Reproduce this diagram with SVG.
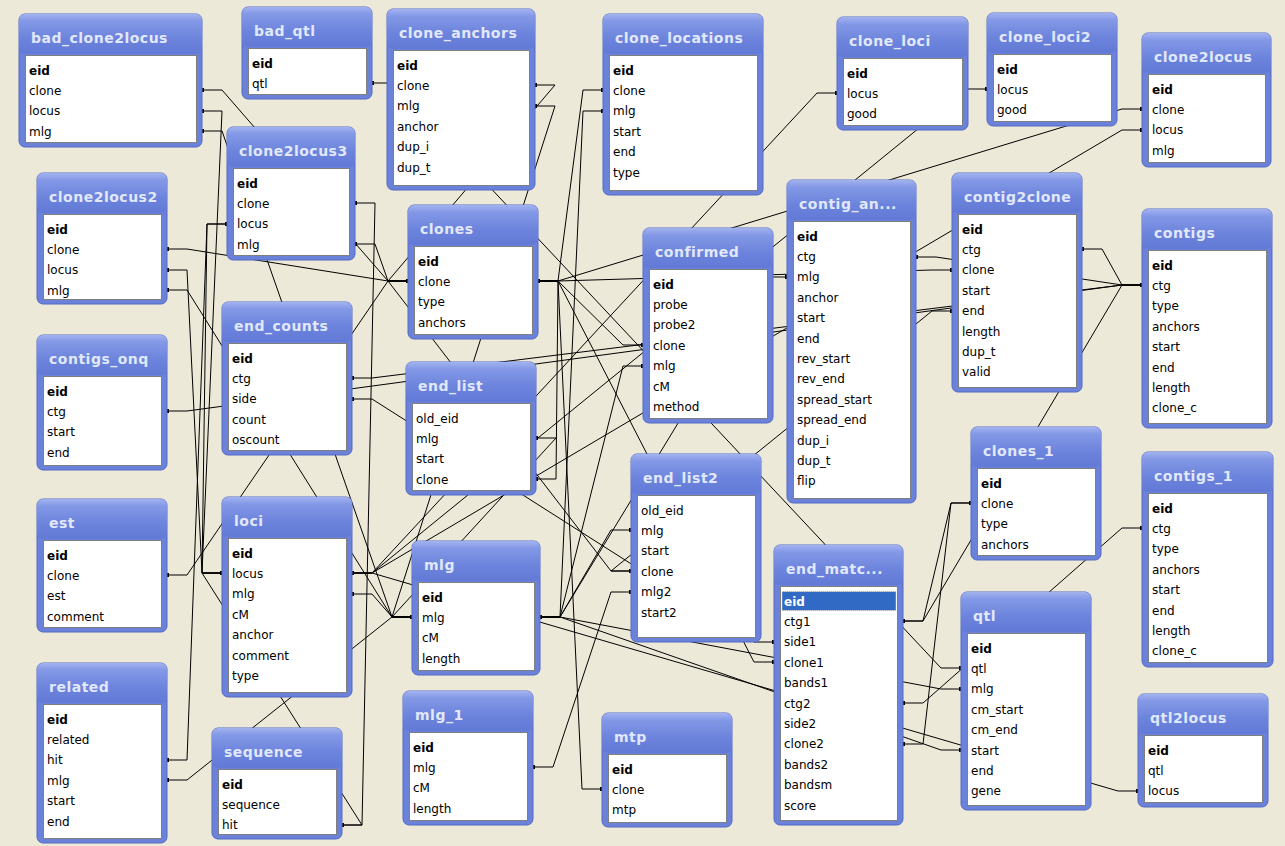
<svg xmlns="http://www.w3.org/2000/svg" width="1285" height="846" viewBox="0 0 1285 846">
<defs>
<linearGradient id="hg" x1="0" y1="0" x2="0" y2="1">
<stop offset="0" stop-color="#a3b3f0"/><stop offset="0.18" stop-color="#8398e6"/><stop offset="0.6" stop-color="#6c84dc"/><stop offset="1" stop-color="#627ad6"/>
</linearGradient>
<marker id="dot" markerWidth="4" markerHeight="4" refX="2" refY="2" markerUnits="userSpaceOnUse"><rect width="4" height="4" fill="#000"/></marker>
<style>
.fr{fill:#6a82da;stroke:#5569c4;stroke-width:1}
.hd{fill:url(#hg)}
.tt{font-family:"DejaVu Sans",sans-serif;font-weight:bold;font-size:14px;letter-spacing:0.5px;fill:#e1e8fc}
.wl{fill:#fff;stroke:#7f7f7f;stroke-width:1}
.fd{font-family:"DejaVu Sans",sans-serif;font-size:12px;fill:#000}
.pk{font-weight:bold}
.cn path{fill:none;stroke:#000;stroke-width:1;marker-start:url(#dot);marker-end:url(#dot)}
</style>
</defs>
<rect width="1285" height="846" fill="#ece9d8"/>
<g id="connectors" class="cn">
<path d="M202 90 H222 L388 281 H408"/>
<path d="M202 111 H222 L202 573 H222"/>
<path d="M202 131 H222 L392 617 H412"/>
<path d="M372 83 H392 L941 668 H961"/>
<path d="M167 249 H187 L388 281 H408"/>
<path d="M167 270 H187 L202 573 H222"/>
<path d="M167 290 H187 L392 617 H412"/>
<path d="M355 203 H375 L362 825 H342"/>
<path d="M355 244 H375 L388 281 H408"/>
<path d="M227 224 H207 L202 573 H222"/>
<path d="M167 411 H187 L1122 285 H1142"/>
<path d="M352 378 H372 L1122 285 H1142"/>
<path d="M352 399 H372 L754 642 H774"/>
<path d="M167 575 H187 L388 281 H408"/>
<path d="M167 760 H187 L207 224 H227"/>
<path d="M167 780 H187 L392 617 H412"/>
<path d="M342 825 H362 L202 573 H222"/>
<path d="M352 594 H372 L392 617 H412"/>
<path d="M352 573 H372 L817 93 H837"/>
<path d="M352 573 H372 L967 89 H987"/>
<path d="M352 573 H372 L1122 130 H1142"/>
<path d="M352 573 H372 L1118 791 H1138"/>
<path d="M538 281 H558 L1122 109 H1142"/>
<path d="M535 85 H555 L388 281 H408"/>
<path d="M535 106 H555 L392 617 H412"/>
<path d="M538 281 H558 L583 90 H603"/>
<path d="M540 617 H560 L583 111 H603"/>
<path d="M538 281 H558 L623 345 H643"/>
<path d="M540 617 H560 L623 366 H643"/>
<path d="M538 281 H558 L932 270 H952"/>
<path d="M540 617 H560 L767 277 H787"/>
<path d="M916 257 H936 L1122 285 H1142"/>
<path d="M1082 249 H1102 L1122 285 H1142"/>
<path d="M536 479 H556 L558 281 H538"/>
<path d="M536 438 H556 L392 617 H412"/>
<path d="M408 281 H388 L611 571 H631"/>
<path d="M533 767 H553 L611 592 H631"/>
<path d="M538 281 H558 L582 789 H602"/>
<path d="M540 617 H560 L941 689 H961"/>
<path d="M540 617 H560 L941 750 H961"/>
<path d="M538 281 H558 L754 662 H774"/>
<path d="M903 621 H923 L951 503 H971"/>
<path d="M903 744 H923 L951 503 H971"/>
<path d="M903 621 H923 L1122 285 H1142"/>
<path d="M903 703 H923 L1122 528 H1142"/>
<path d="M631 571 H611 L932 311 H952"/>
<path d="M631 530 H611 L560 617 H540"/>
</g>

<g id="bad_clone2locus" transform="translate(19,14)">
<rect class="fr" width="183" height="133" rx="6"/><rect class="hd" width="183" height="40" rx="6"/>
<text class="tt" x="12" y="29">bad_clone2locus</text>
<rect class="wl" x="6.5" y="41.5" width="171" height="87"/>
<text class="fd"><tspan x="10" y="60.5" class="pk">eid</tspan><tspan x="10" dy="20.4">clone</tspan><tspan x="10" dy="20.4">locus</tspan><tspan x="10" dy="20.4">mlg</tspan></text>
</g>

<g id="bad_qtl" transform="translate(242,7)">
<rect class="fr" width="130" height="92" rx="6"/><rect class="hd" width="130" height="40" rx="6"/>
<text class="tt" x="12" y="29">bad_qtl</text>
<rect class="wl" x="6.5" y="41.5" width="118" height="46"/>
<text class="fd"><tspan x="10" y="60.5" class="pk">eid</tspan><tspan x="10" dy="20.4">qtl</tspan></text>
</g>

<g id="clone_anchors" transform="translate(387,9)">
<rect class="fr" width="148" height="181" rx="6"/><rect class="hd" width="148" height="40" rx="6"/>
<text class="tt" x="12" y="29">clone_anchors</text>
<rect class="wl" x="6.5" y="41.5" width="136" height="135"/>
<text class="fd"><tspan x="10" y="60.5" class="pk">eid</tspan><tspan x="10" dy="20.4">clone</tspan><tspan x="10" dy="20.4">mlg</tspan><tspan x="10" dy="20.4">anchor</tspan><tspan x="10" dy="20.4">dup_i</tspan><tspan x="10" dy="20.4">dup_t</tspan></text>
</g>

<g id="clone_locations" transform="translate(603,14)">
<rect class="fr" width="160" height="181" rx="6"/><rect class="hd" width="160" height="40" rx="6"/>
<text class="tt" x="12" y="29">clone_locations</text>
<rect class="wl" x="6.5" y="41.5" width="148" height="135"/>
<text class="fd"><tspan x="10" y="60.5" class="pk">eid</tspan><tspan x="10" dy="20.4">clone</tspan><tspan x="10" dy="20.4">mlg</tspan><tspan x="10" dy="20.4">start</tspan><tspan x="10" dy="20.4">end</tspan><tspan x="10" dy="20.4">type</tspan></text>
</g>

<g id="clone_loci" transform="translate(837,17)">
<rect class="fr" width="131" height="113" rx="6"/><rect class="hd" width="131" height="40" rx="6"/>
<text class="tt" x="12" y="29">clone_loci</text>
<rect class="wl" x="6.5" y="41.5" width="119" height="67"/>
<text class="fd"><tspan x="10" y="60.5" class="pk">eid</tspan><tspan x="10" dy="20.4">locus</tspan><tspan x="10" dy="20.4">good</tspan></text>
</g>

<g id="clone_loci2" transform="translate(987,13)">
<rect class="fr" width="130" height="113" rx="6"/><rect class="hd" width="130" height="40" rx="6"/>
<text class="tt" x="12" y="29">clone_loci2</text>
<rect class="wl" x="6.5" y="41.5" width="118" height="67"/>
<text class="fd"><tspan x="10" y="60.5" class="pk">eid</tspan><tspan x="10" dy="20.4">locus</tspan><tspan x="10" dy="20.4">good</tspan></text>
</g>

<g id="clone2locus" transform="translate(1142,33)">
<rect class="fr" width="129" height="134" rx="6"/><rect class="hd" width="129" height="40" rx="6"/>
<text class="tt" x="12" y="29">clone2locus</text>
<rect class="wl" x="6.5" y="41.5" width="117" height="88"/>
<text class="fd"><tspan x="10" y="60.5" class="pk">eid</tspan><tspan x="10" dy="20.4">clone</tspan><tspan x="10" dy="20.4">locus</tspan><tspan x="10" dy="20.4">mlg</tspan></text>
</g>

<g id="clone2locus3" transform="translate(227,127)">
<rect class="fr" width="128" height="133" rx="6"/><rect class="hd" width="128" height="40" rx="6"/>
<text class="tt" x="12" y="29">clone2locus3</text>
<rect class="wl" x="6.5" y="41.5" width="116" height="87"/>
<text class="fd"><tspan x="10" y="60.5" class="pk">eid</tspan><tspan x="10" dy="20.4">clone</tspan><tspan x="10" dy="20.4">locus</tspan><tspan x="10" dy="20.4">mlg</tspan></text>
</g>

<g id="clone2locus2" transform="translate(37,173)">
<rect class="fr" width="130" height="131" rx="6"/><rect class="hd" width="130" height="40" rx="6"/>
<text class="tt" x="12" y="29">clone2locus2</text>
<rect class="wl" x="6.5" y="41.5" width="118" height="85"/>
<text class="fd"><tspan x="10" y="60.5" class="pk">eid</tspan><tspan x="10" dy="20.4">clone</tspan><tspan x="10" dy="20.4">locus</tspan><tspan x="10" dy="20.4">mlg</tspan></text>
</g>

<g id="clones" transform="translate(408,205)">
<rect class="fr" width="130" height="134" rx="6"/><rect class="hd" width="130" height="40" rx="6"/>
<text class="tt" x="12" y="29">clones</text>
<rect class="wl" x="6.5" y="41.5" width="118" height="88"/>
<text class="fd"><tspan x="10" y="60.5" class="pk">eid</tspan><tspan x="10" dy="20.4">clone</tspan><tspan x="10" dy="20.4">type</tspan><tspan x="10" dy="20.4">anchors</tspan></text>
</g>

<g id="confirmed" transform="translate(643,228)">
<rect class="fr" width="130" height="195" rx="6"/><rect class="hd" width="130" height="40" rx="6"/>
<text class="tt" x="12" y="29">confirmed</text>
<rect class="wl" x="6.5" y="41.5" width="118" height="149"/>
<text class="fd"><tspan x="10" y="60.5" class="pk">eid</tspan><tspan x="10" dy="20.4">probe</tspan><tspan x="10" dy="20.4">probe2</tspan><tspan x="10" dy="20.4">clone</tspan><tspan x="10" dy="20.4">mlg</tspan><tspan x="10" dy="20.4">cM</tspan><tspan x="10" dy="20.4">method</tspan></text>
</g>

<g id="contig_an" transform="translate(787,180)">
<rect class="fr" width="129" height="323" rx="6"/><rect class="hd" width="129" height="40" rx="6"/>
<text class="tt" x="12" y="29">contig_an...</text>
<rect class="wl" x="6.5" y="41.5" width="117" height="277"/>
<text class="fd"><tspan x="10" y="60.5" class="pk">eid</tspan><tspan x="10" dy="20.4">ctg</tspan><tspan x="10" dy="20.4">mlg</tspan><tspan x="10" dy="20.4">anchor</tspan><tspan x="10" dy="20.4">start</tspan><tspan x="10" dy="20.4">end</tspan><tspan x="10" dy="20.4">rev_start</tspan><tspan x="10" dy="20.4">rev_end</tspan><tspan x="10" dy="20.4">spread_start</tspan><tspan x="10" dy="20.4">spread_end</tspan><tspan x="10" dy="20.4">dup_i</tspan><tspan x="10" dy="20.4">dup_t</tspan><tspan x="10" dy="20.4">flip</tspan></text>
</g>

<g id="contig2clone" transform="translate(952,173)">
<rect class="fr" width="130" height="219" rx="6"/><rect class="hd" width="130" height="40" rx="6"/>
<text class="tt" x="12" y="29">contig2clone</text>
<rect class="wl" x="6.5" y="41.5" width="118" height="173"/>
<text class="fd"><tspan x="10" y="60.5" class="pk">eid</tspan><tspan x="10" dy="20.4">ctg</tspan><tspan x="10" dy="20.4">clone</tspan><tspan x="10" dy="20.4">start</tspan><tspan x="10" dy="20.4">end</tspan><tspan x="10" dy="20.4">length</tspan><tspan x="10" dy="20.4">dup_t</tspan><tspan x="10" dy="20.4">valid</tspan></text>
</g>

<g id="contigs" transform="translate(1142,209)">
<rect class="fr" width="130" height="219" rx="6"/><rect class="hd" width="130" height="40" rx="6"/>
<text class="tt" x="12" y="29">contigs</text>
<rect class="wl" x="6.5" y="41.5" width="118" height="173"/>
<text class="fd"><tspan x="10" y="60.5" class="pk">eid</tspan><tspan x="10" dy="20.4">ctg</tspan><tspan x="10" dy="20.4">type</tspan><tspan x="10" dy="20.4">anchors</tspan><tspan x="10" dy="20.4">start</tspan><tspan x="10" dy="20.4">end</tspan><tspan x="10" dy="20.4">length</tspan><tspan x="10" dy="20.4">clone_c</tspan></text>
</g>

<g id="contigs_onq" transform="translate(37,335)">
<rect class="fr" width="130" height="135" rx="6"/><rect class="hd" width="130" height="40" rx="6"/>
<text class="tt" x="12" y="29">contigs_onq</text>
<rect class="wl" x="6.5" y="41.5" width="118" height="89"/>
<text class="fd"><tspan x="10" y="60.5" class="pk">eid</tspan><tspan x="10" dy="20.4">ctg</tspan><tspan x="10" dy="20.4">start</tspan><tspan x="10" dy="20.4">end</tspan></text>
</g>

<g id="end_counts" transform="translate(222,302)">
<rect class="fr" width="130" height="153" rx="6"/><rect class="hd" width="130" height="40" rx="6"/>
<text class="tt" x="12" y="29">end_counts</text>
<rect class="wl" x="6.5" y="41.5" width="118" height="107"/>
<text class="fd"><tspan x="10" y="60.5" class="pk">eid</tspan><tspan x="10" dy="20.4">ctg</tspan><tspan x="10" dy="20.4">side</tspan><tspan x="10" dy="20.4">count</tspan><tspan x="10" dy="20.4">oscount</tspan></text>
</g>

<g id="end_list" transform="translate(406,362)">
<rect class="fr" width="130" height="133" rx="6"/><rect class="hd" width="130" height="40" rx="6"/>
<text class="tt" x="12" y="29">end_list</text>
<rect class="wl" x="6.5" y="41.5" width="118" height="87"/>
<text class="fd"><tspan x="10" y="60.5">old_eid</tspan><tspan x="10" dy="20.4">mlg</tspan><tspan x="10" dy="20.4">start</tspan><tspan x="10" dy="20.4">clone</tspan></text>
</g>

<g id="end_list2" transform="translate(631,454)">
<rect class="fr" width="130" height="188" rx="6"/><rect class="hd" width="130" height="40" rx="6"/>
<text class="tt" x="12" y="29">end_list2</text>
<rect class="wl" x="6.5" y="41.5" width="118" height="142"/>
<text class="fd"><tspan x="10" y="60.5">old_eid</tspan><tspan x="10" dy="20.4">mlg</tspan><tspan x="10" dy="20.4">start</tspan><tspan x="10" dy="20.4">clone</tspan><tspan x="10" dy="20.4">mlg2</tspan><tspan x="10" dy="20.4">start2</tspan></text>
</g>

<g id="est" transform="translate(37,499)">
<rect class="fr" width="130" height="133" rx="6"/><rect class="hd" width="130" height="40" rx="6"/>
<text class="tt" x="12" y="29">est</text>
<rect class="wl" x="6.5" y="41.5" width="118" height="87"/>
<text class="fd"><tspan x="10" y="60.5" class="pk">eid</tspan><tspan x="10" dy="20.4">clone</tspan><tspan x="10" dy="20.4">est</tspan><tspan x="10" dy="20.4">comment</tspan></text>
</g>

<g id="loci" transform="translate(222,497)">
<rect class="fr" width="130" height="200" rx="6"/><rect class="hd" width="130" height="40" rx="6"/>
<text class="tt" x="12" y="29">loci</text>
<rect class="wl" x="6.5" y="41.5" width="118" height="154"/>
<text class="fd"><tspan x="10" y="60.5" class="pk">eid</tspan><tspan x="10" dy="20.4">locus</tspan><tspan x="10" dy="20.4">mlg</tspan><tspan x="10" dy="20.4">cM</tspan><tspan x="10" dy="20.4">anchor</tspan><tspan x="10" dy="20.4">comment</tspan><tspan x="10" dy="20.4">type</tspan></text>
</g>

<g id="related" transform="translate(37,663)">
<rect class="fr" width="130" height="180" rx="6"/><rect class="hd" width="130" height="40" rx="6"/>
<text class="tt" x="12" y="29">related</text>
<rect class="wl" x="6.5" y="41.5" width="118" height="134"/>
<text class="fd"><tspan x="10" y="60.5" class="pk">eid</tspan><tspan x="10" dy="20.4">related</tspan><tspan x="10" dy="20.4">hit</tspan><tspan x="10" dy="20.4">mlg</tspan><tspan x="10" dy="20.4">start</tspan><tspan x="10" dy="20.4">end</tspan></text>
</g>

<g id="sequence" transform="translate(212,728)">
<rect class="fr" width="130" height="111" rx="6"/><rect class="hd" width="130" height="40" rx="6"/>
<text class="tt" x="12" y="29">sequence</text>
<rect class="wl" x="6.5" y="41.5" width="118" height="65"/>
<text class="fd"><tspan x="10" y="60.5" class="pk">eid</tspan><tspan x="10" dy="20.4">sequence</tspan><tspan x="10" dy="20.4">hit</tspan></text>
</g>

<g id="mlg" transform="translate(412,541)">
<rect class="fr" width="128" height="134" rx="6"/><rect class="hd" width="128" height="40" rx="6"/>
<text class="tt" x="12" y="29">mlg</text>
<rect class="wl" x="6.5" y="41.5" width="116" height="88"/>
<text class="fd"><tspan x="10" y="60.5" class="pk">eid</tspan><tspan x="10" dy="20.4">mlg</tspan><tspan x="10" dy="20.4">cM</tspan><tspan x="10" dy="20.4">length</tspan></text>
</g>

<g id="mlg_1" transform="translate(403,691)">
<rect class="fr" width="130" height="134" rx="6"/><rect class="hd" width="130" height="40" rx="6"/>
<text class="tt" x="12" y="29">mlg_1</text>
<rect class="wl" x="6.5" y="41.5" width="118" height="88"/>
<text class="fd"><tspan x="10" y="60.5" class="pk">eid</tspan><tspan x="10" dy="20.4">mlg</tspan><tspan x="10" dy="20.4">cM</tspan><tspan x="10" dy="20.4">length</tspan></text>
</g>

<g id="mtp" transform="translate(602,713)">
<rect class="fr" width="130" height="114" rx="6"/><rect class="hd" width="130" height="40" rx="6"/>
<text class="tt" x="12" y="29">mtp</text>
<rect class="wl" x="6.5" y="41.5" width="118" height="68"/>
<text class="fd"><tspan x="10" y="60.5" class="pk">eid</tspan><tspan x="10" dy="20.4">clone</tspan><tspan x="10" dy="20.4">mtp</tspan></text>
</g>

<g id="end_matc" transform="translate(774,545)">
<rect class="fr" width="129" height="280" rx="6"/><rect class="hd" width="129" height="40" rx="6"/>
<text class="tt" x="12" y="29">end_matc...</text>
<rect class="wl" x="6.5" y="41.5" width="117" height="234"/>
<rect x="8" y="46.5" width="114" height="19" fill="#316ac5" stroke="#d8d8d8" stroke-dasharray="1 1"/>
<text class="fd"><tspan x="10" y="60.5" class="pk" fill="#fff">eid</tspan><tspan x="10" dy="20.4">ctg1</tspan><tspan x="10" dy="20.4">side1</tspan><tspan x="10" dy="20.4">clone1</tspan><tspan x="10" dy="20.4">bands1</tspan><tspan x="10" dy="20.4">ctg2</tspan><tspan x="10" dy="20.4">side2</tspan><tspan x="10" dy="20.4">clone2</tspan><tspan x="10" dy="20.4">bands2</tspan><tspan x="10" dy="20.4">bandsm</tspan><tspan x="10" dy="20.4">score</tspan></text>
</g>

<g id="clones_1" transform="translate(971,427)">
<rect class="fr" width="130" height="133" rx="6"/><rect class="hd" width="130" height="40" rx="6"/>
<text class="tt" x="12" y="29">clones_1</text>
<rect class="wl" x="6.5" y="41.5" width="118" height="87"/>
<text class="fd"><tspan x="10" y="60.5" class="pk">eid</tspan><tspan x="10" dy="20.4">clone</tspan><tspan x="10" dy="20.4">type</tspan><tspan x="10" dy="20.4">anchors</tspan></text>
</g>

<g id="contigs_1" transform="translate(1142,452)">
<rect class="fr" width="131" height="215" rx="6"/><rect class="hd" width="131" height="40" rx="6"/>
<text class="tt" x="12" y="29">contigs_1</text>
<rect class="wl" x="6.5" y="41.5" width="119" height="169"/>
<text class="fd"><tspan x="10" y="60.5" class="pk">eid</tspan><tspan x="10" dy="20.4">ctg</tspan><tspan x="10" dy="20.4">type</tspan><tspan x="10" dy="20.4">anchors</tspan><tspan x="10" dy="20.4">start</tspan><tspan x="10" dy="20.4">end</tspan><tspan x="10" dy="20.4">length</tspan><tspan x="10" dy="20.4">clone_c</tspan></text>
</g>

<g id="qtl" transform="translate(961,592)">
<rect class="fr" width="130" height="218" rx="6"/><rect class="hd" width="130" height="40" rx="6"/>
<text class="tt" x="12" y="29">qtl</text>
<rect class="wl" x="6.5" y="41.5" width="118" height="172"/>
<text class="fd"><tspan x="10" y="60.5" class="pk">eid</tspan><tspan x="10" dy="20.4">qtl</tspan><tspan x="10" dy="20.4">mlg</tspan><tspan x="10" dy="20.4">cm_start</tspan><tspan x="10" dy="20.4">cm_end</tspan><tspan x="10" dy="20.4">start</tspan><tspan x="10" dy="20.4">end</tspan><tspan x="10" dy="20.4">gene</tspan></text>
</g>

<g id="qtl2locus" transform="translate(1138,694)">
<rect class="fr" width="130" height="113" rx="6"/><rect class="hd" width="130" height="40" rx="6"/>
<text class="tt" x="12" y="29">qtl2locus</text>
<rect class="wl" x="6.5" y="41.5" width="118" height="67"/>
<text class="fd"><tspan x="10" y="60.5" class="pk">eid</tspan><tspan x="10" dy="20.4">qtl</tspan><tspan x="10" dy="20.4">locus</tspan></text>
</g>
</svg>
